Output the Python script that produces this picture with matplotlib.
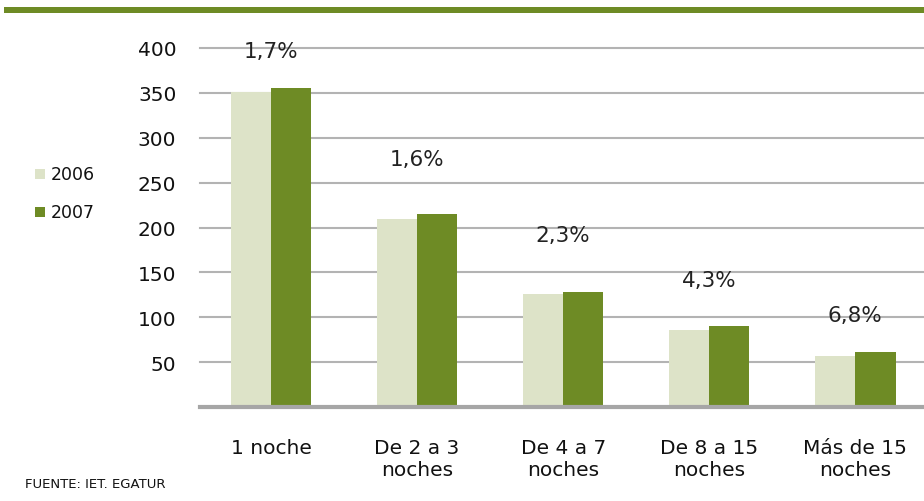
import numpy as np
import matplotlib.pyplot as plt
from matplotlib.patches import Rectangle

categories = ["1 noche", "De 2 a 3\nnoches", "De 4 a 7\nnoches", "De 8 a 15\nnoches", "Más de 15\nnoches"]
values_2006 = [351, 210, 126, 86, 57]
values_2007 = [355, 215, 128, 90, 61]
growth = ["1,7%", "1,6%", "2,3%", "4,3%", "6,8%"]
growth_y = [397, 276, 192, 141, 102]
yticks = [50, 100, 150, 200, 250, 300, 350, 400]

light = "#dde3c8"
green = "#6e8b25"

fig = plt.figure(figsize=(9.24, 5.02), dpi=100)
ax = fig.add_axes([200 / 924, 1 - 408 / 502, 1 - 200 / 924, (408 - 49) / 502])

x = np.arange(len(categories))
w = 0.275
ax.bar(x - w / 2, values_2006, w, color=light, zorder=3)
ax.bar(x + w / 2, values_2007, w, color=green, zorder=3)

for i, (t, yy) in enumerate(zip(growth, growth_y)):
    ax.text(x[i], yy, t, ha="center", va="center", fontsize=15.5, color="#222222", zorder=4)

ax.set_xlim(-0.486, 4.47)
ax.set_ylim(0, 400)
ax.set_yticks(yticks)
ax.set_yticklabels([str(v) for v in yticks], fontsize=14.5)
ax.set_xticks(x)
ax.set_xticklabels(categories, fontsize=14.5, linespacing=1.25)
ax.tick_params(axis="both", length=0, colors="#111111")
ax.tick_params(axis="y", pad=17)
ax.tick_params(axis="x", pad=22)
ax.grid(axis="y", color="#b3b3b3", linewidth=1.5, zorder=0)
for gl in ax.get_ygridlines():
    gl.set_clip_on(False)
for s in ["top", "right", "left"]:
    ax.spines[s].set_visible(False)
ax.spines["bottom"].set_color("#a6a6a6")
ax.spines["bottom"].set_linewidth(3)
ax.spines["bottom"].set_zorder(5)

# top banner line
fig.add_artist(Rectangle((4 / 924, 1 - 14 / 502), 920 / 924, 6 / 502,
                         transform=fig.transFigure, color=green, lw=0))

# legend on the left
for yy, c, lab in [(175, light, "2006"), (213, green, "2007")]:
    fig.add_artist(Rectangle((35 / 924, 1 - (yy + 5) / 502), 10 / 924, 10 / 502,
                             transform=fig.transFigure, color=c, lw=0))
    fig.text(51 / 924, 1 - yy / 502, lab, fontsize=12.5, va="center", ha="left", color="#111111")

fig.text(25 / 924, 1 - 485 / 502, "FUENTE: IET. EGATUR", fontsize=9.5, va="center", ha="left", color="#111111")

fig.savefig("out.png", dpi=100)
